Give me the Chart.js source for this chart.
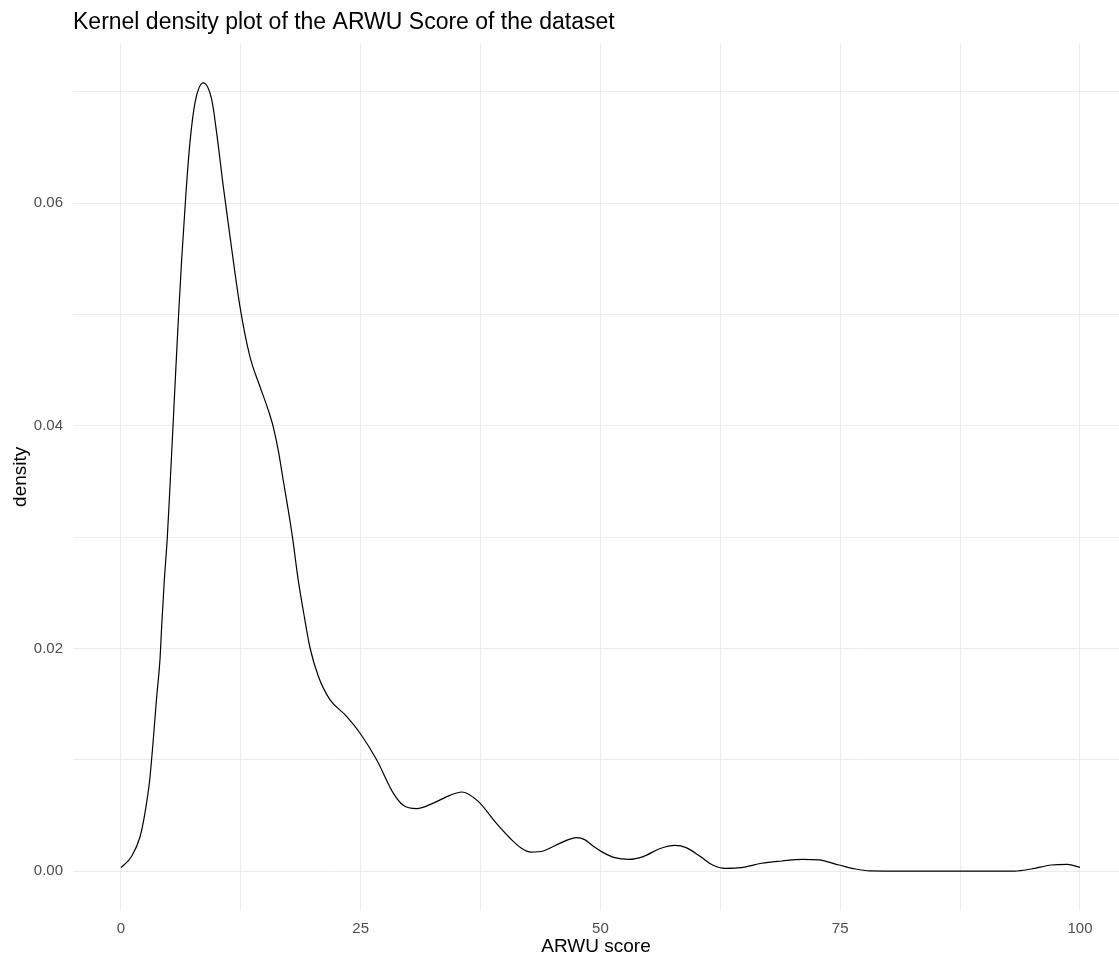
<!DOCTYPE html>
<html>
<head>
<meta charset="utf-8">
<script src="https://cdn.jsdelivr.net/npm/chart.js@4.4.0/dist/chart.umd.min.js"></script>
<style>
    html, body { margin: 0; padding: 0; background: #fff; }
</style>
</head>
<body>
<canvas id="myChart" width="1119" height="958"></canvas>
<script>
// ARWU score (x) and kernel density (y)
const scoreX = [0, 1.1, 2.0, 2.5, 3.0, 3.4, 3.7, 4.07, 4.24, 4.52, 4.83, 5.11, 5.39, 5.63, 5.98,
    6.33, 6.78, 7.19, 7.72, 8.58, 9.46, 9.98, 10.67, 11.37, 12.41, 13.45, 14.5, 15.36, 15.88,
    16.4, 16.92, 17.45, 17.9, 18.49, 19.19, 19.7, 20.58, 21.79, 23.53, 24.92, 26.66, 28.4,
    29.44, 30.83, 32.57, 34.3, 35.53, 37.2, 39.13, 40.63, 41.69, 42.75, 44.04, 45.3, 46.6,
    47.5, 48.4, 49.3, 50.2, 51.48, 52.97, 54.46, 56.16, 57.78, 58.93, 60.42, 61.7, 62.97, 64.67,
    66.8, 68.92, 71.05, 72.76, 74.89, 76.59, 78.08, 82, 86, 90, 93.2, 94.9, 97.0, 98.7, 100];
const densityY = [0.0003, 0.0013, 0.0031, 0.0052, 0.0082, 0.0121, 0.0154, 0.019, 0.0219, 0.0261,
    0.0299, 0.0345, 0.0393, 0.0435, 0.0495, 0.0549, 0.0609, 0.0654, 0.069, 0.0708, 0.0693,
    0.0663, 0.0615, 0.057, 0.0507, 0.0462, 0.0435, 0.0414, 0.0399, 0.0378, 0.0351, 0.0324,
    0.0299, 0.0261, 0.0225, 0.0201, 0.0175, 0.0154, 0.0139, 0.0124, 0.01, 0.007, 0.0059,
    0.0056, 0.0061, 0.0068, 0.0071, 0.0063, 0.0043, 0.0029, 0.0021, 0.0017, 0.0018, 0.0023,
    0.0028, 0.003, 0.0028, 0.0022, 0.0017, 0.0012, 0.00105, 0.0013, 0.002, 0.0023, 0.0021, 0.0013,
    0.00054, 0.00024, 0.0003, 0.0007, 0.0009, 0.00105, 0.001, 0.00054, 0.00018, 0.00002,
    0, 0, 0, 0, 0.00018, 0.00054, 0.0006, 0.00033];

// grid lines (major + minor) and their labels
const xTicks = [0, 12.5, 25, 37.5, 50, 62.5, 75, 87.5, 100];
const xLabels = ['0', '', '25', '', '50', '', '75', '', '100'];
const yTicks = [0, 0.01, 0.02, 0.03, 0.04, 0.05, 0.06, 0.07];
const yLabels = ['0.00', '', '0.02', '', '0.04', '', '0.06', ''];

const FONT = "'Liberation Sans', Arial, sans-serif";
const GRID = '#EBEBEB';

const points = scoreX.map((x, i) => ({ x: x, y: densityY[i] }));

const ctx = document.getElementById('myChart');
new Chart(ctx, {
    type: 'line',
    data: {
        datasets: [{
            label: 'density',
            data: points,
            borderColor: '#000',
            borderWidth: 1.2,
            pointRadius: 0,
            fill: false,
            cubicInterpolationMode: 'monotone'
        }]
    },
    options: {
        responsive: false,
        animation: false,
        layout: { padding: 0 },
        plugins: {
            legend: { display: false },
            tooltip: { enabled: false },
            title: {
                display: true,
                text: 'Kernel density plot of the ARWU Score of the dataset',
                align: 'start',
                fullSize: false,
                color: '#000',
                font: { family: FONT, size: 23, weight: 'normal' },
                padding: { top: 9, bottom: 7 }
            }
        },
        scales: {
            x: {
                type: 'linear',
                min: -5,
                max: 104.07,
                afterBuildTicks: function(scale) {
                    scale.ticks = xTicks.map(v => ({ value: v }));
                },
                afterFit: function(scale) { scale.height = 48; },
                grid: { color: GRID, lineWidth: 1, drawTicks: false },
                border: { display: false },
                ticks: {
                    autoSkip: false,
                    maxRotation: 0,
                    padding: 10,
                    color: '#4D4D4D',
                    font: { family: FONT, size: 15 },
                    callback: (value, index) => xLabels[index]
                },
                title: {
                    display: true,
                    text: 'ARWU score',
                    color: '#000',
                    font: { family: FONT, size: 19 },
                    padding: { top: 0, bottom: 0 }
                }
            },
            y: {
                type: 'linear',
                min: -0.0035,
                max: 0.07432,
                afterBuildTicks: function(scale) {
                    scale.ticks = yTicks.map(v => ({ value: v }));
                },
                afterFit: function(scale) { scale.width = 73; },
                grid: { color: GRID, lineWidth: 1, drawTicks: false },
                border: { display: false },
                ticks: {
                    autoSkip: false,
                    padding: 10,
                    color: '#4D4D4D',
                    font: { family: FONT, size: 15 },
                    callback: (value, index) => yLabels[index]
                },
                title: {
                    display: true,
                    text: 'density',
                    color: '#000',
                    font: { family: FONT, size: 19 },
                    padding: { top: 9, bottom: 0 }
                }
            }
        }
    }
});
</script>
</body>
</html>
